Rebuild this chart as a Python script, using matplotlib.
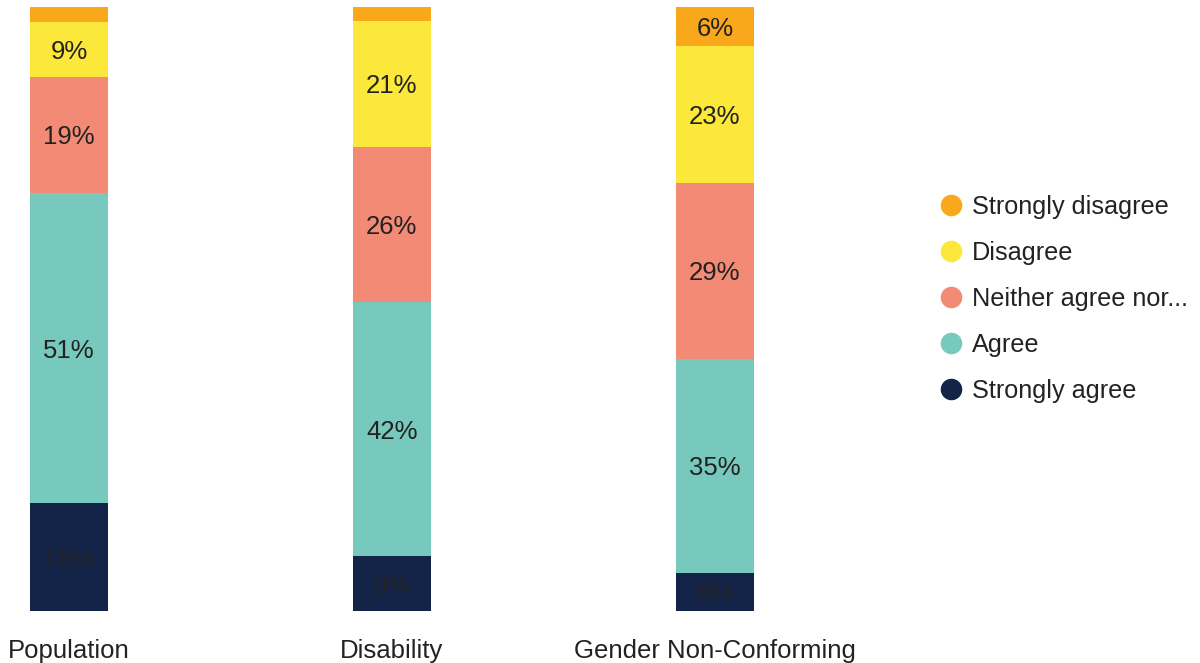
import matplotlib
matplotlib.use("Agg")
import matplotlib.pyplot as plt
from matplotlib.lines import Line2D

plt.rcParams["font.family"] = ["Liberation Sans", "DejaVu Sans"]

GROUPS = ["Population", "Disability", "Gender Non-Conforming"]
RESPONSES = ["Strongly agree", "Agree", "Neither agree nor...", "Disagree", "Strongly disagree"]
# share of respondents (%) per response, bottom to top
STRONGLY_AGREE = [17.8, 9.1, 6.3]
AGREE = [51.4, 42.0, 35.4]
NEITHER = [19.2, 25.7, 29.2]
DISAGREE = [9.1, 20.9, 22.7]
STRONGLY_DISAGREE = [2.5, 2.3, 6.4]
COLORS = ["#132448", "#77C9BD", "#F28A75", "#FBE83A", "#F9A81B"]
MIN_LABEL = 5
FS = 18.5

series = [STRONGLY_AGREE, AGREE, NEITHER, DISAGREE, STRONGLY_DISAGREE]

fig = plt.figure(figsize=(12, 6.63), dpi=100)
ax = fig.add_axes([4.4 / 1200, 52 / 663, 775 / 1200, 604 / 663])

x = list(range(len(GROUPS)))
bottom = [0.0] * len(GROUPS)
for vals, color in zip(series, COLORS):
    ax.bar(x, vals, width=0.241, bottom=bottom, color=color, linewidth=0)
    for xi, v, b in zip(x, vals, bottom):
        if v >= MIN_LABEL:
            ax.text(xi, b + v / 2 - 0.4, f"{round(v):.0f}%", ha="center", va="center",
                    fontsize=FS, color="#222222")
    bottom = [b + v for b, v in zip(bottom, vals)]

ax.set_xlim(-0.2, 2.2)
ax.set_ylim(0, 100)
ax.set_xticks(x)
ax.set_xticklabels(GROUPS, fontsize=FS, color="#222222")
ax.tick_params(axis="x", length=0, pad=20)
ax.set_yticks([])
for s in ax.spines.values():
    s.set_visible(False)

handles = [Line2D([], [], marker="o", linestyle="", markersize=14.5,
                  markerfacecolor=c, markeredgecolor=c)
           for c in reversed(COLORS)]
fig.legend(handles, list(reversed(RESPONSES)), loc="center left",
           bbox_to_anchor=(923 / 1200, 1 - 299 / 663), frameon=False,
           fontsize=18.2, labelspacing=0.87, handletextpad=0.25,
           handlelength=1.2, labelcolor="#222222", borderpad=0)

fig.savefig("out.png", dpi=100)
